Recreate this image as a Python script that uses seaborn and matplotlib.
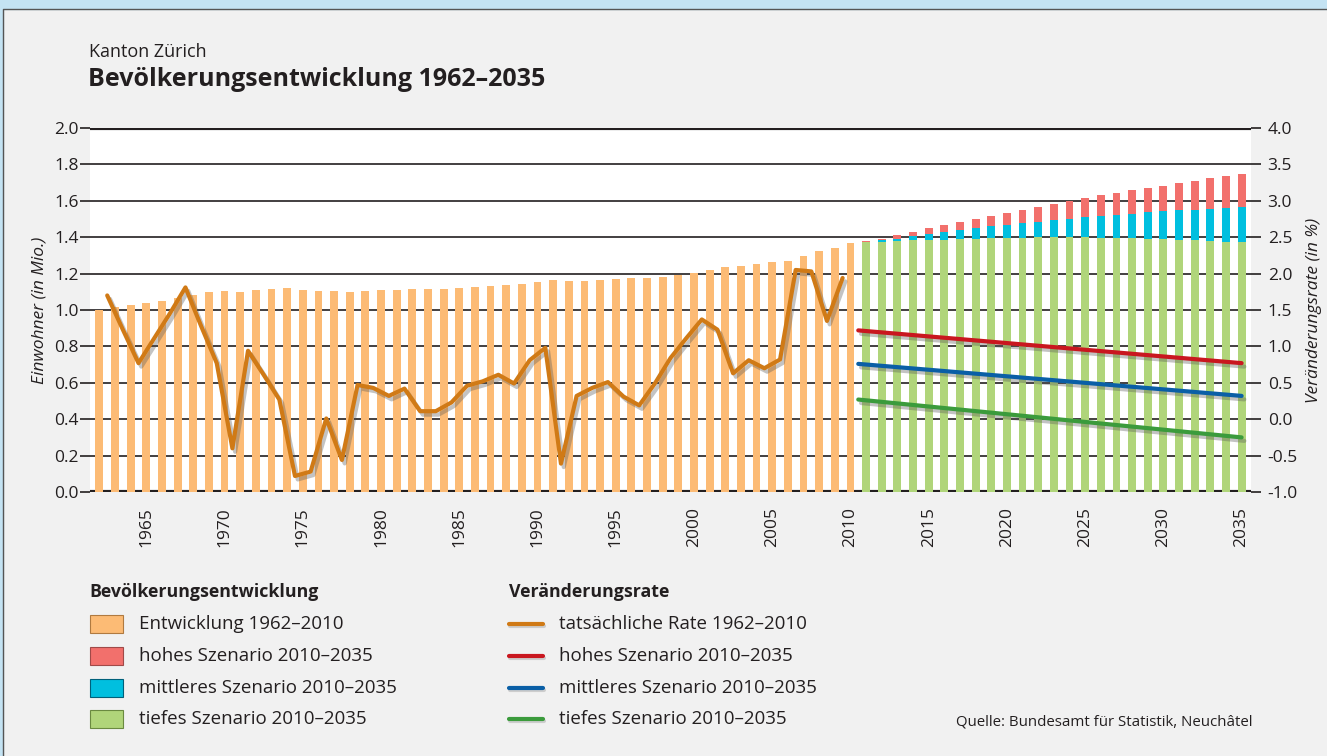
import matplotlib; matplotlib.use('Agg')
import numpy as np
import pandas as pd
import matplotlib.pyplot as plt
import seaborn as sns
from matplotlib import patheffects as pe
from matplotlib.patches import Rectangle
from matplotlib.lines import Line2D

# Population (millions)
hist_years = list(range(1962, 2011))
hist_pop = [1.000, 1.015, 1.027, 1.038, 1.049, 1.064, 1.082, 1.097, 1.104, 1.099,
            1.110, 1.115, 1.121, 1.112, 1.104, 1.104, 1.099, 1.104, 1.110, 1.110,
            1.115, 1.115, 1.115, 1.120, 1.126, 1.132, 1.137, 1.143, 1.154, 1.165,
            1.158, 1.159, 1.165, 1.170, 1.174, 1.176, 1.181, 1.192, 1.203, 1.220,
            1.236, 1.242, 1.253, 1.264, 1.269, 1.297, 1.324, 1.341, 1.368]

scen_years = list(range(2011, 2036))
scen_low = [1.374, 1.374, 1.381, 1.386, 1.386, 1.386, 1.392, 1.392, 1.397, 1.397,
            1.397, 1.401, 1.401, 1.401, 1.401, 1.397, 1.397, 1.397, 1.392, 1.392,
            1.386, 1.386, 1.381, 1.374, 1.374]
scen_mid = [1.374, 1.386, 1.392, 1.408, 1.419, 1.429, 1.441, 1.452, 1.463, 1.467,
            1.478, 1.485, 1.496, 1.500, 1.511, 1.518, 1.522, 1.529, 1.540, 1.544,
            1.551, 1.551, 1.555, 1.562, 1.566]
scen_high = [1.379, 1.392, 1.412, 1.429, 1.451, 1.467, 1.484, 1.500, 1.516, 1.533,
             1.549, 1.566, 1.582, 1.599, 1.615, 1.632, 1.645, 1.659, 1.670, 1.681,
             1.698, 1.709, 1.725, 1.736, 1.747]

# Change rate (%)
rate_years = list(range(1963, 2011))
rate_actual = [1.70, 1.23, 0.77, 1.11, 1.45, 1.81, 1.28, 0.77, -0.40, 0.94,
               0.61, 0.27, -0.78, -0.72, 0.01, -0.56, 0.47, 0.43, 0.32, 0.42,
               0.11, 0.11, 0.23, 0.46, 0.52, 0.61, 0.49, 0.81, 0.98, -0.61,
               0.32, 0.43, 0.51, 0.31, 0.19, 0.49, 0.84, 1.11, 1.37, 1.23,
               0.63, 0.81, 0.70, 0.82, 2.05, 2.03, 1.35, 1.94]
proj_years = [2010.5, 2035]
rate_high = [1.22, 0.77]
rate_mid = [0.76, 0.32]
rate_low = [0.27, -0.25]

c_hist = '#fcbb75'
c_high = '#f2706c'
c_mid = '#00bfdf'
c_low = '#b0d57a'
l_hist = '#d07a16'
l_high = '#c9171f'
l_mid = '#0a5fa6'
l_low = '#3b9b3c'
bg = '#f1f1f1'
ink = '#231f20'

sns.set_style('white')
plt.rcParams['font.family'] = ['Open Sans', 'DejaVu Sans']
plt.rcParams['axes.unicode_minus'] = False

W, H = 1327, 756
fig = plt.figure(figsize=(W / 100, H / 100), dpi=100, facecolor=bg)

# outer frame
fig.patches.append(Rectangle((0, 1 - 9 / H), 1, 9 / H, transform=fig.transFigure,
                             color='#c4e3f3', zorder=0))
fig.patches.append(Rectangle((0, 0), 3 / W, 1, transform=fig.transFigure,
                             color='#c4e3f3', zorder=0))
fig.add_artist(Line2D([3 / W, 3 / W, 1], [0, 1 - 9 / H, 1 - 9 / H],
                      transform=fig.transFigure, color='#555555', lw=1))

ax = fig.add_axes([90 / W, (H - 492) / H, (1251 - 90) / W, 364 / H])
ax.set_facecolor('white')

sns.barplot(x=hist_years, y=hist_pop, native_scale=True, width=0.5, color=c_hist,
            saturation=1, errorbar=None, linewidth=0, ax=ax)
sns.barplot(x=scen_years, y=scen_high, native_scale=True, width=0.5, color=c_high,
            saturation=1, errorbar=None, linewidth=0, ax=ax)
sns.barplot(x=scen_years, y=scen_mid, native_scale=True, width=0.5, color=c_mid,
            saturation=1, errorbar=None, linewidth=0, ax=ax)
sns.barplot(x=scen_years, y=scen_low, native_scale=True, width=0.5, color=c_low,
            saturation=1, errorbar=None, linewidth=0, ax=ax)

ax.set_xlim(1961.4, 2035.6)
ax.set_ylim(0, 2.0)
ax.set_yticks(np.arange(0, 2.01, 0.2))
ax.set_yticklabels([f'{v:.1f}' for v in np.arange(0, 2.01, 0.2)])
ax.yaxis.grid(True, color=ink, lw=1.2)
ax.set_axisbelow(True)
ax.axhline(2.0, color=ink, lw=3, zorder=0.5)
ax.axhline(0.0, color=ink, lw=3, zorder=0.5)
for s in ax.spines.values():
    s.set_visible(False)
ax.tick_params(axis='y', length=7, width=1.2, color=ink, pad=1,
               labelsize=12.5, labelcolor=ink)
ax.set_xticks(range(1965, 2036, 5))
ax.set_xticklabels([str(y) for y in range(1965, 2036, 5)], rotation=90)
ax.tick_params(axis='x', length=0, pad=11, labelsize=12.5, labelcolor=ink)
ax.set_xlabel('')
ax.set_ylabel('Einwohner (in Mio.)', style='italic', fontsize=12.5, color=ink)
ax.yaxis.set_label_coords(-42 / (1251 - 90), 0.5)

ax2 = ax.twinx()
shadow = [pe.SimpleLineShadow(offset=(2, -2.5), shadow_color='#555555', alpha=0.35),
          pe.Normal()]
sns.lineplot(x=[y - 0.5 for y in rate_years], y=rate_actual, color=l_hist, lw=3,
             path_effects=shadow, ax=ax2)
sns.lineplot(x=proj_years, y=rate_high, color=l_high, lw=3, path_effects=shadow, ax=ax2)
sns.lineplot(x=proj_years, y=rate_mid, color=l_mid, lw=3, path_effects=shadow, ax=ax2)
sns.lineplot(x=proj_years, y=rate_low, color=l_low, lw=3, path_effects=shadow, ax=ax2)
ax2.set_ylim(-1.0, 4.0)
ax2.set_yticks(np.arange(-1.0, 4.01, 0.5))
ax2.set_yticklabels([f'{v:.1f}' for v in np.arange(-1.0, 4.01, 0.5)])
ax2.tick_params(axis='y', length=7, width=1.2, color=ink, pad=5,
                labelsize=12.5, labelcolor=ink)
for s in ax2.spines.values():
    s.set_visible(False)
ax2.set_ylabel('Veränderungsrate (in %)', style='italic', fontsize=12.5, color=ink,
               rotation=90)
ax2.yaxis.set_label_coords(1 + 55 / (1251 - 90), 0.5)
ax.set_xlim(1961.4, 2035.6)

# titles
fig.text(89 / W, 1 - 52 / H, 'Kanton Zürich', fontsize=13, color=ink, va='center')
fig.text(88 / W, 1 - 80 / H, 'Bevölkerungsentwicklung 1962–2035', fontsize=18,
         fontweight='bold', color=ink, va='center')

# legend
fig.text(89 / W, 1 - 592 / H, 'Bevölkerungsentwicklung', fontsize=12.8,
         fontweight='bold', color=ink, va='center')
fig.text(509 / W, 1 - 592 / H, 'Veränderungsrate', fontsize=12.8,
         fontweight='bold', color=ink, va='center')
bar_items = [(c_hist, '#b07a40', 'Entwicklung 1962–2010'),
             (c_high, '#a04a48', 'hohes Szenario 2010–2035'),
             (c_mid, '#00607a', 'mittleres Szenario 2010–2035'),
             (c_low, '#6a8a40', 'tiefes Szenario 2010–2035')]
line_items = [(l_hist, 'tatsächliche Rate 1962–2010'),
              (l_high, 'hohes Szenario 2010–2035'),
              (l_mid, 'mittleres Szenario 2010–2035'),
              (l_low, 'tiefes Szenario 2010–2035')]
for i, (fc, ec, txt) in enumerate(bar_items):
    yc = 624 + i * 31.8
    fig.patches.append(Rectangle((90 / W, 1 - (yc + 9) / H), 33 / W, 18 / H,
                                 transform=fig.transFigure, facecolor=fc,
                                 edgecolor=ec, lw=0.8))
    fig.text(139 / W, 1 - yc / H, txt, fontsize=13.5, color=ink, va='center')
for i, (lc, txt) in enumerate(line_items):
    yc = 624 + i * 31.8
    fig.add_artist(Line2D([509 / W, 543 / W], [1 - yc / H, 1 - yc / H],
                          transform=fig.transFigure, color=lc, lw=3,
                          path_effects=[pe.SimpleLineShadow(offset=(1, -1.5),
                                                            shadow_color='#999999',
                                                            alpha=0.4),
                                        pe.Normal()]))
    fig.text(559 / W, 1 - yc / H, txt, fontsize=13.5, color=ink, va='center')

fig.text(1253 / W, 1 - 722 / H, 'Quelle: Bundesamt für Statistik, Neuchâtel',
         fontsize=10.8, color=ink, va='center', ha='right')

fig.savefig('out.png', dpi=100, facecolor=bg)
